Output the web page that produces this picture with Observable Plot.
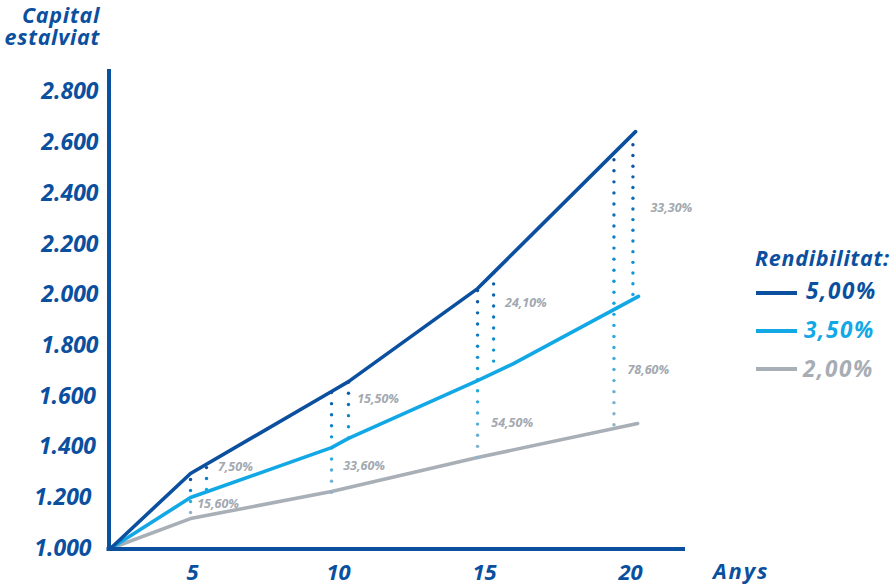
<!DOCTYPE html>
<html>
<head>
<meta charset="utf-8">
<script src="https://cdn.jsdelivr.net/npm/d3@7"></script>
<script src="https://cdn.jsdelivr.net/npm/@observablehq/plot@0.6"></script>
<style>
  body { margin: 0; background: #ffffff; }
  #wrap { position: relative; width: 890px; height: 586px; overflow: hidden;
          font-family: "Open Sans", sans-serif; font-style: italic; font-weight: 700; }
  #wrap svg { position: absolute; left: 0; top: 0; }
  .abs { position: absolute; white-space: nowrap; }
  .swatch { position: absolute; height: 4px; width: 41px; }
</style>
</head>
<body>
<div id="wrap"></div>
<script>
// ---------- data ----------
const seriesNames  = ["5,00%", "3,50%", "2,00%"];
const seriesColors = ["#0b4f9f", "#12a8e5", "#a9afb7"];

const anys5     = [0, 4.88, 9.76, 10.34, 14.76, 15.31, 20.17];
const capital5  = [1000, 1296, 1619, 1658, 2025, 2088, 2644];
const anys35    = [0, 4.88, 9.76, 10.34, 14.76, 15.99, 20.27];
const capital35 = [1000, 1201, 1398, 1434, 1662, 1729, 1994];
const anys2     = [0, 4.88, 9.76, 14.76, 20.24];
const capital2  = [1000, 1118, 1225, 1359, 1493];

const yTicksA = [1800, 2000, 2200, 2400, 2600, 2800];
const yTicksB = [1400, 1600];
const yTicksC = [1000, 1200];
const xTicks  = [5, 10, 15, 20];

// percentage differences written on the chart
const diffLabels  = ["7,50%", "15,60%", "15,50%", "33,60%", "24,10%", "54,50%", "33,30%", "78,60%"];
const diffAnys    = [5.87, 5.16, 10.64, 10.16, 15.70, 15.23, 20.68, 19.89];
const diffCapital = [1321, 1176, 1589, 1326, 1967, 1494, 2342, 1702];

// dotted guides: x, first dot, last dot, value of the 3,50% line there
const guideAnys   = [4.88, 5.48, 9.76, 10.34, 14.76, 15.31, 19.43, 20.08];
const guideTop    = [1272, 1319, 1615, 1656, 2017, 2087, 2533, 2592];
const guideBottom = [1142, 1233, 1222, 1436, 1359, 1739, 1488, 2002];
const guideLight  = [1201, 1233, 1398, 1436, 1662, 1698, 1942, 1982];
const guideToGray = [true, false, true, false, true, false, true, false];

// ---------- build tables ----------
const DARK = "#0b4f9f", LIGHT = "#0ea6e4", GRAYBLUE = "#8fb2ca";
const lines = [
  ...anys5.map((a, i) => ({serie: seriesNames[0], any: a, capital: capital5[i]})),
  ...anys35.map((a, i) => ({serie: seriesNames[1], any: a, capital: capital35[i]})),
  ...anys2.map((a, i) => ({serie: seriesNames[2], any: a, capital: capital2[i]}))
];
const diffs = diffLabels.map((t, i) => ({text: t, any: diffAnys[i], capital: diffCapital[i]}));

const dotStep = 43.5;
const guideDots = [];
guideAnys.forEach((a, i) => {
  const top = guideTop[i], bot = guideBottom[i];
  const n = Math.round((top - bot) / dotStep) + 1;
  const col = guideToGray[i]
    ? d3.scaleLinear().domain([bot, guideLight[i], top]).range([GRAYBLUE, LIGHT, DARK]).clamp(true)
    : d3.scaleLinear().domain([guideLight[i], top]).range([LIGHT, DARK]).clamp(true);
  for (let k = 0; k < n; k++) {
    const v = top - (top - bot) * k / (n - 1);
    guideDots.push({any: a, capital: v, color: col(v)});
  }
});

const yFmt = d => d3.format(",")(d).replace(/,/g, ".");
const ySty = {tickSize: 0, tickPadding: 8.5, fontSize: 23, color: DARK, tickFormat: yFmt, label: null};

const chart = Plot.plot({
  width: 890,
  height: 586,
  marginLeft: 106.5,
  marginRight: 205,
  marginTop: 69,
  marginBottom: 38,
  style: {fontFamily: "Open Sans, sans-serif", fontStyle: "italic", fontWeight: 700, background: "transparent"},
  x: {type: "linear", domain: [0, 5, 21.88], range: [110, 192, 685]},
  y: {domain: [1000, 2889], range: [548, 69]},
  color: {type: "identity"},
  marks: [
    Plot.lineY(lines.filter(d => d.serie === seriesNames[2]), {x: "any", y: "capital", stroke: seriesColors[2], strokeWidth: 3.6, strokeLinejoin: "round"}),
    Plot.lineY(lines.filter(d => d.serie === seriesNames[1]), {x: "any", y: "capital", stroke: seriesColors[1], strokeWidth: 3.6, strokeLinejoin: "round"}),
    Plot.lineY(lines.filter(d => d.serie === seriesNames[0]), {x: "any", y: "capital", stroke: seriesColors[0], strokeWidth: 3.6, strokeLinejoin: "round"}),
    Plot.dot(guideDots, {x: "any", y: "capital", r: 1.7, fill: "color", stroke: null}),
    Plot.text(diffs, {x: "any", y: "capital", text: "text", textAnchor: "start", fontSize: 12.5, fill: "#a2a8b0", fontWeight: 700, fontStyle: "italic"}),
    Plot.ruleX([0], {y1: 1000, y2: 2889, stroke: DARK, strokeWidth: 4, dx: -1.5}),
    Plot.ruleY([1000], {stroke: DARK, strokeWidth: 4, dy: 0.5}),
    Plot.axisY({...ySty, ticks: yTicksA}),
    Plot.axisY({...ySty, ticks: yTicksB, dx: -2.5}),
    Plot.axisY({...ySty, ticks: yTicksC, dx: -7}),
    Plot.axisX({ticks: xTicks, tickSize: 0, tickPadding: 16, fontSize: 22, color: DARK, label: null})
  ]
});

const wrap = document.getElementById("wrap");
wrap.appendChild(chart);

// ---------- overlays: axis titles and legend ----------
function addText(txt, left, top, size, color, lh, spacing, align, width) {
  const d = document.createElement("div");
  d.className = "abs";
  d.textContent = txt;
  d.style.left = left + "px";
  d.style.top = top + "px";
  d.style.fontSize = size + "px";
  d.style.lineHeight = lh + "px";
  d.style.color = color;
  d.style.letterSpacing = spacing + "px";
  if (align) { d.style.textAlign = align; d.style.width = width + "px"; }
  wrap.appendChild(d);
}
addText("Capital", 0, 6, 21.5, DARK, 18, 0.7, "right", 100);
addText("estalviat", 0, 28, 21.5, DARK, 18, 0.7, "right", 100);
addText("Anys", 713, 558.5, 22, DARK, 22, 1.8);
addText("Rendibilitat:", 755, 247.4, 21.5, DARK, 21, 0.7);

const legendTops = [279.8, 318.8, 358.2];
const legendLefts = [806, 804, 803];
const swatchTops = [290.7, 328.7, 367.3];
seriesNames.forEach((name, i) => {
  const s = document.createElement("div");
  s.className = "swatch";
  s.style.left = "756px";
  s.style.top = swatchTops[i] + "px";
  s.style.background = seriesColors[i];
  wrap.appendChild(s);
  addText(name, legendLefts[i], legendTops[i], 22.5, i === 2 ? "#a7adb5" : seriesColors[i], 22, 1.6);
});
</script>
</body>
</html>
